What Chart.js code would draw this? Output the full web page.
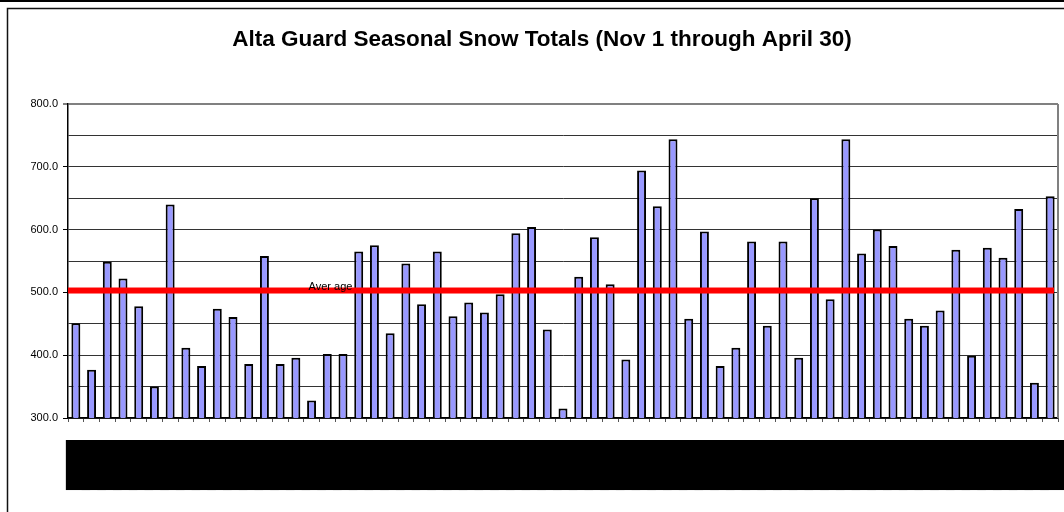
<!DOCTYPE html>
<html>
<head>
<meta charset="utf-8">
<script src="https://cdn.jsdelivr.net/npm/chart.js@4.4.1/dist/chart.umd.min.js"></script>
<style>
  html, body { margin: 0; padding: 0; background: #fff; overflow: hidden; }
  canvas { display: block; }
</style>
</head>
<body>
<canvas id="c" width="1064" height="512"></canvas>
<script>
const categories = [
  '1945-46','1946-47','1947-48','1948-49','1949-50','1950-51','1951-52','1952-53','1953-54','1954-55',
  '1955-56','1956-57','1957-58','1958-59','1959-60','1960-61','1961-62','1962-63','1963-64','1964-65',
  '1965-66','1966-67','1967-68','1968-69','1969-70','1970-71','1971-72','1972-73','1973-74','1974-75',
  '1975-76','1976-77','1977-78','1978-79','1979-80','1980-81','1981-82','1982-83','1983-84','1984-85',
  '1985-86','1986-87','1987-88','1988-89','1989-90','1990-91','1991-92','1992-93','1993-94','1994-95',
  '1995-96','1996-97','1997-98','1998-99','1999-00','2000-01','2001-02','2002-03','2003-04','2004-05',
  '2005-06','2006-07','2007-08'
];
const snowTotals = [
  451, 377, 549, 522, 478, 350, 640, 412, 383, 474,
  461, 386, 558, 386, 396, 328, 402, 402, 565, 575,
  435, 546, 481, 565, 462, 484, 468, 497, 594, 604,
  441, 315, 525, 588, 513, 393, 694, 637, 744, 458,
  597, 383, 412, 581, 447, 581, 396, 650, 489, 744,
  562, 600, 574, 458, 447, 471, 568, 399, 571, 555,
  633, 356, 653
];
const averageValue = 503;
const averageLabel = 'Aver age';
const chartTitle = 'Alta Guard Seasonal Snow Totals (Nov 1 through April 30)';
const yMin = 300, yMax = 800, yStep = 50, yLabelStep = 100;

const FONT = '"Liberation Sans", Arial, sans-serif';

const decor = {
  id: 'decor',
  beforeDraw(chart) {
    const ctx = chart.ctx;
    ctx.save();
    ctx.fillStyle = '#fff';
    ctx.fillRect(0, 0, chart.width, chart.height);
    ctx.fillStyle = '#000';
    ctx.fillRect(0, 0, chart.width, 2);
    ctx.strokeStyle = '#111';
    ctx.lineWidth = 1.5;
    ctx.beginPath();
    ctx.moveTo(7.5, chart.height);
    ctx.lineTo(7.5, 8.5);
    ctx.lineTo(chart.width, 8.5);
    ctx.stroke();
    ctx.restore();
  },
  beforeDatasetsDraw(chart) {
    const ctx = chart.ctx, a = chart.chartArea;
    ctx.save();
    ctx.strokeStyle = '#808080';
    ctx.lineWidth = 2;
    ctx.beginPath();
    ctx.moveTo(a.right, a.top);
    ctx.lineTo(a.right, a.bottom);
    ctx.stroke();
    ctx.restore();
  },
  afterDatasetsDraw(chart) {
    const ctx = chart.ctx, a = chart.chartArea;
    const y = chart.scales.y.getPixelForValue(averageValue);
    ctx.save();
    ctx.fillStyle = '#ff0000';
    ctx.fillRect(a.left, y - 3, (a.right - 4) - a.left, 6);
    ctx.fillStyle = '#000';
    ctx.font = '11px ' + FONT;
    ctx.textAlign = 'left';
    ctx.textBaseline = 'alphabetic';
    ctx.fillText(averageLabel, chart.scales.x.getPixelForValue(15) - 3, y - 1);
    ctx.restore();
  }
};

new Chart(document.getElementById('c'), {
  type: 'bar',
  data: {
    labels: categories,
    datasets: [{
      data: snowTotals,
      backgroundColor: '#9999ff',
      borderColor: '#000',
      borderWidth: 2,
      barPercentage: 0.57,
      categoryPercentage: 1
    }]
  },
  options: {
    responsive: false,
    animation: false,
    layout: { padding: { left: 26, right: 6, top: 0, bottom: 0 } },
    plugins: {
      legend: { display: false },
      tooltip: { enabled: false },
      title: {
        display: true,
        text: chartTitle,
        color: '#000',
        font: { family: FONT, size: 22.5, weight: 'bold', lineHeight: 1.2 },
        padding: { top: 26, bottom: 51 }
      }
    },
    scales: {
      x: {
        offset: true,
        afterFit(scale) { scale.height = 94; scale.paddingLeft = 0; scale.paddingRight = 0; },
        border: { color: '#000', width: 1.5 },
        grid: { display: true, drawOnChartArea: false, tickLength: 4, color: '#555', offset: true },
        ticks: {
          autoSkip: false,
          maxRotation: 90,
          minRotation: 90,
          padding: 20,
          color: '#000',
          font: { family: FONT, size: 12, weight: 'bold' },
          showLabelBackdrop: true,
          backdropColor: '#000',
          backdropPadding: { top: 10, bottom: 0, left: 4, right: 2 }
        }
      },
      y: {
        min: yMin,
        max: yMax,
        afterFit(scale) { scale.width = 42; },
        border: { color: '#000', width: 1.5 },
        grid: {
          color: (c) => c.tick && c.tick.value === yMax ? '#808080' : '#333',
          lineWidth: (c) => c.tick && c.tick.value === yMax ? 2 : 1,
          tickColor: (c) => c.tick && c.tick.value % yLabelStep === 0 ? '#000' : 'rgba(0,0,0,0)',
          tickWidth: 1,
          tickLength: 5
        },
        ticks: {
          stepSize: yStep,
          padding: 5,
          color: '#000',
          font: { family: FONT, size: 11 },
          callback: (v) => (v % yLabelStep === 0 ? Number(v).toFixed(1) : '')
        }
      }
    }
  },
  plugins: [decor]
});
</script>
</body>
</html>
